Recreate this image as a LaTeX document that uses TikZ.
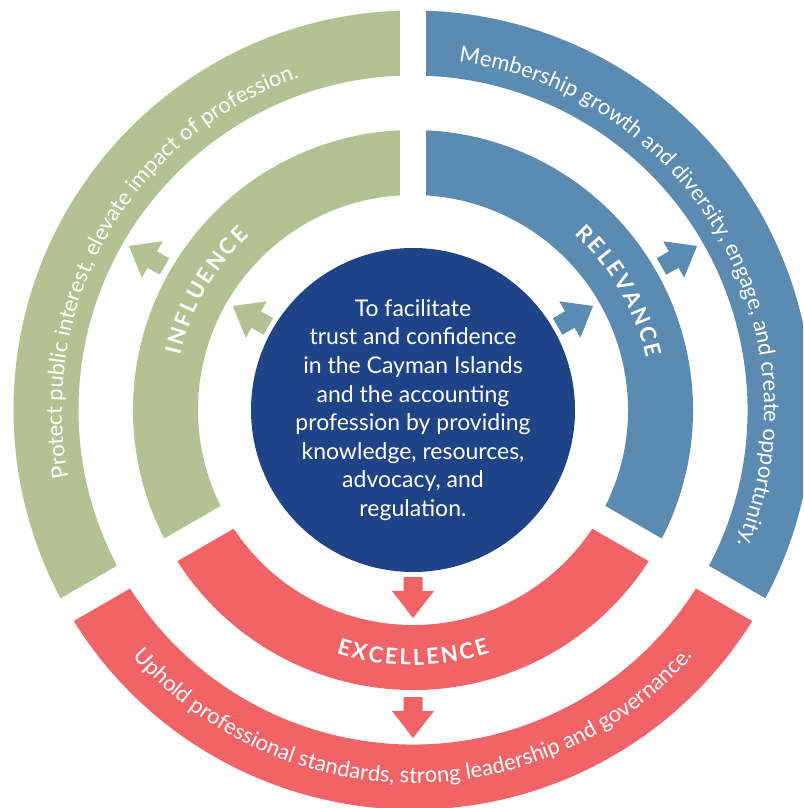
\documentclass[tikz,border=0pt]{standalone}
\usepackage{fontspec}
\setmainfont{Lato}
\usetikzlibrary{decorations.text}
\definecolor{Sage}{HTML}{B6C193}
\definecolor{SteelBlue}{HTML}{5B8BB1}
\definecolor{Navy}{HTML}{1F4387}
\definecolor{Coral}{HTML}{F06366}
\tikzset{
  band/.style={draw=#1, line width=65pt},
  gapstrip/.style={draw=white, line width=26pt},
  ringtext/.style={decorate, decoration={text along path, text align=center, text color=white, text={#1}}},
  pics/fatarrow/.style={code={
    \fill[pic actions] (0,-9.5) -- (14,-9.5) -- (14,-21) -- (41,0) -- (14,21) -- (14,9.5) -- (0,9.5) -- cycle;
  }}
}
\newcommand{\capfont}{\bfseries\fontsize{22}{24}\selectfont}
\newcommand{\bandfont}{\fontsize{22}{26}\selectfont}
\newcommand{\ls}{\kern2.4pt}

\begin{document}
\begin{tikzpicture}[x=1pt, y=1pt]
\useasboundingbox (-413,-398) rectangle (390,410);
\clip (-413,-398) rectangle (390,410);

% inner and outer rings, one colour per sector
\draw[band=Sage] (90:247.5) arc (90:210:247.5);
\draw[band=Sage] (90:367) arc (90:210:367);
\draw[band=SteelBlue] (-30:247.5) arc (-30:90:247.5);
\draw[band=SteelBlue] (-30:367) arc (-30:90:367);
\draw[band=Coral] (210:247.5) arc (210:330:247.5);
\draw[band=Coral] (210:367) arc (210:330:367);

% white cuts between the sectors
\foreach \ang in {90,210,330}
  \draw[gapstrip] (0,0) -- (\ang:420);

% outward arrows
\foreach \ang/\col in {150/Sage, 30/SteelBlue, 270/Coral} {
  \pic[fill=\col, rotate=\ang] at (\ang:167) {fatarrow};
  \pic[fill=\col, rotate=\ang] at (\ang:287) {fatarrow};
}

\node[circle, fill=Navy, minimum size=324pt, inner sep=0pt, text=white, align=center,
  font=\fontsize{23}{28.6}\selectfont] (mission) at (0,0)
  {To facilitate\\trust and confidence\\in the Cayman Islands\\and the accounting\\profession by providing\\knowledge, resources,\\advocacy, and\\regulation.};

% ring labels, spaced capitals
\path[ringtext={|\capfont|I{\ls}N{\ls}F{\ls}L{\ls}U{\ls}E{\ls}N{\ls}C{\ls}E}] (200:239) arc (200:100:239);
\path[ringtext={|\capfont|R{\ls}E{\ls}L{\ls}E{\ls}V{\ls}A{\ls}N{\ls}C{\ls}E}] (80:239) arc (80:-20:239);
\path[ringtext={|\capfont|E{\ls}X{\ls}C{\ls}E{\ls}L{\ls}L{\ls}E{\ls}N{\ls}C{\ls}E}] (220:255) arc (220:320:255);

\path[ringtext={|\bandfont|Protect public interest, elevate impact of profession.}] (215:351) arc (215:85:351);
\path[ringtext={|\bandfont|Membership growth and diversity, engage, and create opportunity.}] (95:351) arc (95:-35:351);
\path[ringtext={|\bandfont|Uphold professional standards, strong leadership and governance.}] (200:373) arc (200:340:373);
\end{tikzpicture}
\end{document}
